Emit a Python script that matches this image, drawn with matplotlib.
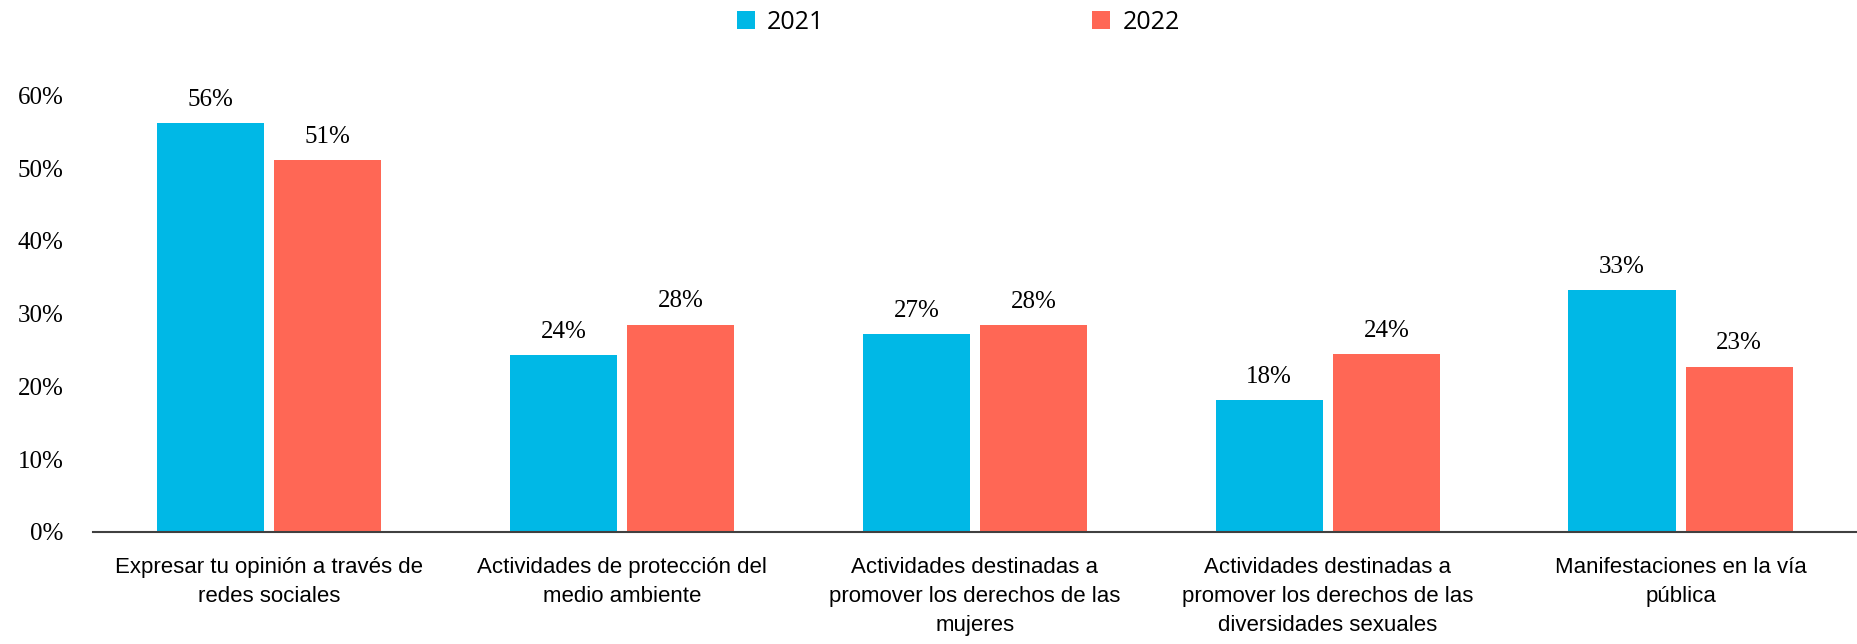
import matplotlib.pyplot as plt
import numpy as np

# Datos
categorias = [
    "Expresar tu opinión a través de\nredes sociales",
    "Actividades de protección del\nmedio ambiente",
    "Actividades destinadas a\npromover los derechos de las\nmujeres",
    "Actividades destinadas a\npromover los derechos de las\ndiversidades sexuales",
    "Manifestaciones en la vía\npública",
]
valores_2021 = [56.2, 24.3, 27.2, 18.1, 33.2]
valores_2022 = [51.1, 28.5, 28.4, 24.4, 22.7]
series = ["2021", "2022"]

azul = "#00B8E6"
rojo = "#FF6755"
serif = ["Liberation Serif", "DejaVu Serif"]

fig = plt.figure(figsize=(18.57, 6.44), dpi=100)
ax = fig.add_axes([0.050, 0.174, 0.950, 0.678])

x = np.arange(len(categorias))
ancho = 0.304
sep = 0.014

b1 = ax.bar(x - ancho / 2 - sep, valores_2021, ancho, color=azul, label=series[0])
b2 = ax.bar(x + ancho / 2 + sep, valores_2022, ancho, color=rojo, label=series[1])

for barras in (b1, b2):
    for b in barras:
        ax.text(b.get_x() + b.get_width() / 2, b.get_height() + 1.7,
                f"{b.get_height():.0f}%", ha="center", va="bottom",
                fontsize=18, family=serif)

ax.set_xlim(-0.5, 4.5)
ax.set_ylim(0, 60)
ax.set_yticks(range(0, 61, 10))
ax.set_yticklabels([f"{v}%" for v in range(0, 61, 10)], fontsize=18, family=serif)
ax.set_xticks(x)
ax.set_xticklabels(categorias, fontsize=16,
                   family=["Liberation Sans Narrow", "Liberation Sans", "DejaVu Sans"],
                   linespacing=1.5)
ax.tick_params(axis="both", length=0)
ax.tick_params(axis="x", pad=18)
ax.tick_params(axis="y", pad=21)

for s in ["top", "right", "left"]:
    ax.spines[s].set_visible(False)
ax.spines["bottom"].set_color("#404040")
ax.spines["bottom"].set_linewidth(1.5)

fig.legend(handles=[b1, b2], labels=series, loc="upper center",
           bbox_to_anchor=(0.516, 1.02), ncol=2, frameon=False,
           columnspacing=10.7, handlelength=0.72, handleheight=0.72,
           handletextpad=0.5, prop={"family": "Open Sans", "size": 18, "weight": "medium"})

fig.savefig("out.png", dpi=100)
